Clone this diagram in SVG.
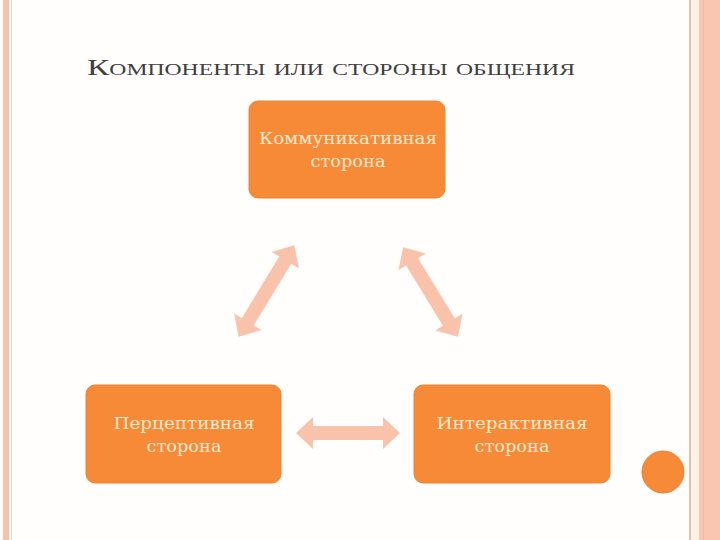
<svg xmlns="http://www.w3.org/2000/svg" width="720" height="540" viewBox="0 0 720 540">
  <defs>
    <style>
      .box { fill: #f68a36; stroke: #ea8238; stroke-width: 1; }
      .lbl { font-family: "DejaVu Serif", "Liberation Serif", serif; font-size: 16px; fill: #fde8cc; text-anchor: middle; }
      .arrow { fill: #f9c3ab; }
      .title { font-family: "Liberation Serif", "DejaVu Serif", serif; font-size: 24px; fill: #404040; font-variant: small-caps; }
    </style>
    <polygon id="dbl" points="-52,0 -35,-16 -35,-7 35,-7 35,-16 52,0 35,16 35,7 -35,7 -35,16"/>
  </defs>

  <rect width="720" height="540" fill="#fffefd"/>
  <!-- left border -->
  <rect x="3" y="0" width="6" height="540" fill="#f6c2a9"/>
  <rect x="11" y="0" width="1" height="540" fill="#f3d6cc"/>
  <!-- right border -->
  <rect x="689" y="0" width="2" height="540" fill="#dcc4b4"/>
  <rect x="691" y="0" width="8" height="540" fill="#fdf3e4"/>
  <rect x="699" y="0" width="21" height="540" fill="#f9c6b2"/>
  <rect x="703" y="0" width="1" height="540" fill="#f2b8a2"/>

  <text class="title" x="87" y="75" textLength="488" lengthAdjust="spacingAndGlyphs">Компоненты или стороны общения</text>

  <g id="connectors">
    <use href="#dbl" class="arrow" transform="translate(266.5,291) rotate(-58.7) scale(1.03,1)"/>
    <use href="#dbl" class="arrow" transform="translate(430.5,292) rotate(58.6) scale(1.01,1)"/>
    <use href="#dbl" class="arrow" transform="translate(348,433)"/>
  </g>

  <g id="node-communicative">
    <rect class="box" x="249" y="101" width="196" height="97" rx="9"/>
    <text class="lbl" x="348" y="144" textLength="178" lengthAdjust="spacingAndGlyphs">Коммуникативная</text>
    <text class="lbl" x="348" y="167" textLength="75" lengthAdjust="spacingAndGlyphs">сторона</text>
  </g>
  <g id="node-perceptive">
    <rect class="box" x="86" y="385" width="195" height="98" rx="9"/>
    <text class="lbl" x="184" y="429" textLength="141" lengthAdjust="spacingAndGlyphs">Перцептивная</text>
    <text class="lbl" x="184" y="452" textLength="75" lengthAdjust="spacingAndGlyphs">сторона</text>
  </g>
  <g id="node-interactive">
    <rect class="box" x="414" y="385" width="196" height="98" rx="9"/>
    <text class="lbl" x="512" y="429" textLength="151" lengthAdjust="spacingAndGlyphs">Интерактивная</text>
    <text class="lbl" x="512" y="452" textLength="75" lengthAdjust="spacingAndGlyphs">сторона</text>
  </g>

  <circle cx="663" cy="472" r="21" fill="#f68a36" stroke="#e8823a" stroke-width="1"/>
</svg>
